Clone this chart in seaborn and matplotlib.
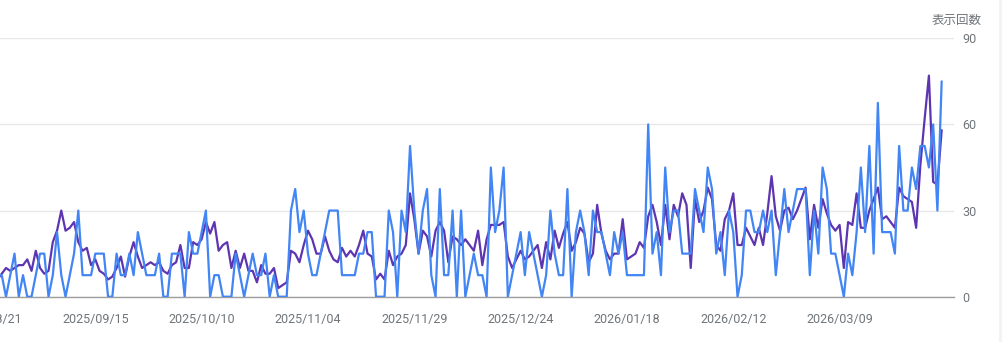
import numpy as np
import pandas as pd
import matplotlib
matplotlib.use("Agg")
import matplotlib.pyplot as plt
from matplotlib.patches import Rectangle
import seaborn as sns

# ---------------- data ----------------
start_date = "2025-08-23"
end_date = "2026-04-02"

clicks = [
    1, 1, 0, 1, 2, 0, 1, 0, 0, 1,
    2, 2, 0, 1, 3, 1, 0, 1, 2, 4,
    1, 1, 1, 2, 2, 2, 0, 0,
    2, 1, 1, 2, 1, 3, 2, 1, 1, 1, 2, 0, 0, 2, 2, 2, 0, 3, 2, 2, 3, 4, 0, 1, 1, 0, 0, 0,
    2, 1, 0, 1, 2, 1, 1, 2, 0, 1, 0, 0, 0, 4, 5, 3, 4, 2, 1, 1, 2, 3, 4, 4, 4, 1, 1,
    1, 1, 2, 2, 3, 3, 0, 0, 0, 4, 3, 0, 4, 3, 7, 4, 2, 4, 5, 1, 0, 5, 1, 1, 4, 0, 4,
    0, 1, 2, 1, 1, 0, 6, 3, 4, 6, 0, 1, 2, 3, 1, 3, 2, 1, 0, 1, 4, 2, 1, 1, 5, 0, 3,
    4, 3, 1, 4, 3, 3, 2, 1, 3, 2, 3, 1, 1, 1, 1, 1, 8, 2, 3, 1, 6, 3, 4, 4, 2, 2, 2,
    5, 4, 3, 6, 5, 2, 3, 1, 4, 3, 0, 1, 4, 4, 3, 3, 4, 3, 4, 1, 3, 5, 3, 4, 5, 5, 5,
    1, 4, 2, 6, 5, 2, 2, 1, 0, 2, 1, 3, 6, 3, 7, 2, 9, 3, 3, 3, 2, 7, 4, 4, 6, 5, 7, 7, 6, 8, 4, 10,
]

impressions = [
    6, 8, 10, 9, 10, 11, 11, 13, 9, 16,
    10, 8, 9, 19, 23, 30, 23, 24, 26, 19,
    16, 17, 11, 13, 9, 8, 6, 7,
    10, 14, 7, 14, 19, 14, 10, 11, 12, 11, 12, 9, 8, 11, 12, 18, 10, 10, 19, 18, 20, 26, 22, 26, 16, 18, 19, 10,
    16, 10, 15, 9, 9, 5, 11, 8, 8, 10, 3, 4, 5, 16, 15, 12, 18, 23, 20, 15, 15, 21, 16, 13, 12, 17, 14,
    16, 14, 18, 23, 15, 14, 6, 8, 6, 16, 11, 14, 15, 18, 36, 27, 15, 23, 21, 14, 23, 26, 23, 12, 21, 20, 18,
    20, 18, 16, 23, 11, 20, 25, 25, 25, 26, 14, 10, 13, 16, 13, 14, 16, 18, 10, 19, 13, 23, 17, 22, 26, 16, 19,
    24, 22, 12, 15, 32, 22, 16, 13, 15, 15, 27, 13, 14, 15, 19, 17, 28, 32, 26, 18, 32, 20, 32, 28, 36, 32, 10,
    34, 26, 30, 38, 34, 18, 16, 27, 30, 36, 18, 18, 24, 21, 18, 24, 18, 29, 42, 28, 23, 30, 31, 27, 30, 34, 38,
    20, 32, 24, 34, 29, 25, 23, 25, 10, 26, 25, 36, 24, 24, 30, 34, 38, 27, 28, 26, 24, 38, 35, 34, 33, 24, 46, 62, 77, 40, 39, 58,
]

tick_dates = ["2025-08-21", "2025-09-15", "2025-10-10", "2025-11-04", "2025-11-29",
              "2025-12-24", "2026-01-18", "2026-02-12", "2026-03-09"]
imp_ticks = [0, 30, 60, 90]
imp_max = 90
click_max = 12
y_title = "表示回数"

# ---------------- figure ----------------
dates = pd.date_range(start_date, end_date, freq="D")
df = pd.DataFrame({"date": dates, "clicks": clicks, "impressions": impressions})

sns.set_theme(style="white")
plt.rcParams["font.family"] = ["Roboto", "Noto Sans CJK JP", "DejaVu Sans"]

W, H = 1003, 342
fig = plt.figure(figsize=(W / 100, H / 100), dpi=100)
fig.patch.set_facecolor("white")

px_day = 4.253
x_first = -2.5          # pixel position of first data day
x_right = 954.0         # right edge of the plot area
y_bottom, y_top = 296.7, 38.3
x_left = x_first - 3 * px_day
left_date = dates[0] - pd.Timedelta(days=3)
right_date = dates[0] + pd.Timedelta(days=(x_right - x_first) / px_day)

ax = fig.add_axes([x_left / W, (H - y_bottom) / H, (x_right - x_left) / W, (y_bottom - y_top) / H])
ax.set_facecolor("none")

BLUE = "#4285F4"
PURPLE = "#5E35B1"
GRAY_TXT = "#70757a"

sns.lineplot(data=df, x="date", y="impressions", ax=ax, color=PURPLE, linewidth=1.6)
ax.lines[-1].set_solid_joinstyle("round")

ax_c = ax.twinx()
sns.lineplot(data=df, x="date", y="clicks", ax=ax_c, color=BLUE, linewidth=1.6)
ax_c.lines[-1].set_solid_joinstyle("round")

ax.set_xlim(left_date, right_date)
ax.set_ylim(0, imp_max)
ax_c.set_ylim(0, click_max)

# axes styling
ax.yaxis.tick_right()
ax.set_yticks(imp_ticks)
ax.set_yticklabels([str(v) for v in imp_ticks])
ax.tick_params(axis="y", length=0, pad=6, labelsize=9, labelcolor=GRAY_TXT)
td = pd.to_datetime(tick_dates)
ax.set_xticks(td)
ax.set_xticklabels([d.strftime("%Y/%m/%d") for d in td])
ax.tick_params(axis="x", length=0, pad=12, labelsize=9, labelcolor=GRAY_TXT)
ax.grid(axis="y", color="#e8e8e8", linewidth=1)
ax.grid(axis="x", visible=False)
ax.set_axisbelow(True)
ax.set_xlabel("")
ax.set_ylabel("")
for s in ["top", "left", "right"]:
    ax.spines[s].set_visible(False)
ax.spines["bottom"].set_color("#9e9e9e")
ax.spines["bottom"].set_linewidth(1)

ax_c.set_yticks([])
ax_c.set_ylabel("")
for s in ax_c.spines.values():
    s.set_visible(False)

fig.text(982 / W, 1 - 20 / H, y_title, ha="right", va="center", fontsize=9,
         color=GRAY_TXT, family=["Noto Sans CJK JP", "DejaVu Sans"])

fig.add_artist(Rectangle((999 / W, 0), 4 / W, 1, transform=fig.transFigure,
                         facecolor="#f2f3f7", edgecolor="none", zorder=0))

fig.savefig("out.png", dpi=100, facecolor="white")
